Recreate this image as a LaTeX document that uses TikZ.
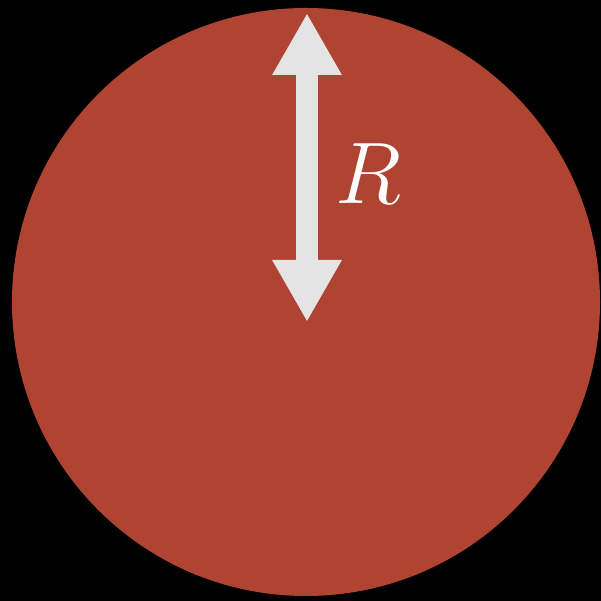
\documentclass[tikz,border=0pt]{standalone}
\usepackage{amsmath}
\usepackage{tikz}
\usetikzlibrary{arrows.meta, positioning}
\definecolor{brick}{RGB}{176,68,50}
\definecolor{tipgray}{RGB}{228,228,228}
\tikzset{
  radarrow/.style={line width=0.22cm, draw=tipgray, {Triangle[length=0.62cm,width=0.65cm]}-{Triangle[length=0.62cm,width=0.65cm]}}}

\begin{document}
\begin{tikzpicture}
	\fill[black] (0,0) rectangle (6.01,6.01);
	\useasboundingbox (0,0) rectangle (6.01,6.01);
	\node[circle, fill=brick, minimum size=5.88cm, inner sep=0pt] (disk) at (3.06,2.99) {};
	\coordinate (t) at (3.07,5.88);
	\coordinate (b) at (3.07,2.79);
\draw [radarrow] (t) -- (b);
\node[white, font=\fontsize{30}{36}\selectfont] (r) at (3.68,4.27) {$R$};
	\end{tikzpicture}
\end{document}
